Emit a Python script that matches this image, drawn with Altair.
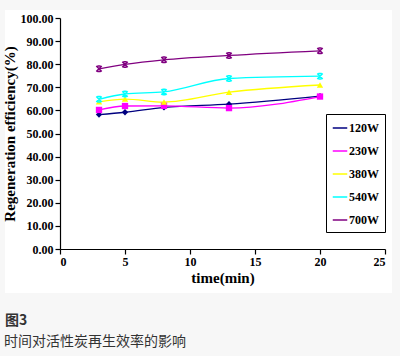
import altair as alt
import pandas as pd

times = [3, 5, 8, 13, 20]
series_names = ["120W", "230W", "380W", "540W", "700W"]
w120 = [58.2, 59.2, 61.3, 62.7, 66.2]
w230 = [60.2, 61.9, 62.0, 61.0, 66.0]
w380 = [63.7, 64.9, 63.6, 67.9, 71.0]
w540 = [64.8, 67.1, 68.0, 73.8, 74.8]
w700 = [78.0, 79.9, 81.9, 83.8, 85.8]
colors = ["#000080", "#FF00FF", "#FFFF00", "#00FFFF", "#800080"]
caption1 = "图3"
caption2 = "时间对活性炭再生效率的影响"

rows = []
for name, vals in zip(series_names, [w120, w230, w380, w540, w700]):
    for t, v in zip(times, vals):
        rows.append({"time": t, "eff": v, "series": name})
df = pd.DataFrame(rows)

W, H = 325, 231
FONT = "Liberation Serif"

xenc = alt.X("time:Q", scale=alt.Scale(domain=[0, 25]),
             axis=alt.Axis(values=[0, 5, 10, 15, 20, 25], title="time(min)", grid=False,
                           tickSize=5, titlePadding=3, zindex=2, labelOverlap=False))
yenc = alt.Y("eff:Q", scale=alt.Scale(domain=[0, 100]),
             axis=alt.Axis(values=list(range(0, 101, 10)), format=".2f",
                           title="Regeneration efficiency(%)", grid=False, tickSize=5,
                           titlePadding=3, zindex=2, labelOverlap=False, labelPadding=2))
cscale = alt.Scale(domain=series_names, range=colors)
color = alt.Color("series:N", scale=cscale,
                  legend=alt.Legend(title=None, orient="none", legendX=266, legendY=96,
                                    symbolType="stroke", symbolStrokeWidth=1.5, symbolSize=210,
                                    labelFont=FONT, labelFontWeight="bold", labelFontSize=12,
                                    labelColor="black", rowPadding=9, padding=6, labelOffset=1,
                                    strokeColor="black", fillColor="white"))

bg = alt.Chart(pd.DataFrame({"a": [0]})).mark_rect(color="white").encode(
    x=alt.value(-55), x2=alt.value(332), y=alt.value(-8), y2=alt.value(275))

lines = alt.Chart(df).mark_line(interpolate="monotone", strokeWidth=1.3).encode(
    x=xenc, y=yenc, color=color)

filled = alt.Chart(df).transform_filter(
    alt.FieldOneOfPredicate(field="series", oneOf=["120W", "230W", "380W"])
).mark_point(filled=True, opacity=1).encode(
    x=xenc, y=yenc,
    color=alt.Color("series:N", scale=cscale, legend=None),
    shape=alt.Shape("series:N", scale=alt.Scale(domain=["120W", "230W", "380W"],
                                                range=["diamond", "square", "triangle-up"]),
                    legend=None),
    size=alt.value(40))

crosses = alt.Chart(df).transform_filter(
    alt.FieldOneOfPredicate(field="series", oneOf=["540W", "700W"])
).mark_point(filled=False, opacity=1, strokeWidth=1.5,
             shape="M-1,-1L1,1M1,-1L-1,1M-0.6,-1L0.6,-1M-0.6,1L0.6,1").encode(
    x=xenc, y=yenc,
    color=alt.Color("series:N", scale=cscale, legend=None),
    size=alt.value(30))

cap = alt.Chart(pd.DataFrame({"a": [0]}))
c1 = cap.mark_text(text=caption1, align="left", baseline="middle", font="Noto Sans CJK SC",
                   fontSize=14, fontWeight="bold", color="#333333").encode(
    x=alt.value(-55), y=alt.value(303))
c2 = cap.mark_text(text=caption2, align="left", baseline="middle", font="Noto Sans CJK SC",
                   fontSize=14, color="#333333").encode(x=alt.value(-56), y=alt.value(324))

chart = alt.layer(bg, lines, filled, crosses, c1, c2).properties(
    width=W, height=H, background="#f7f7f7",
    padding={"left": 60, "top": 18, "right": 15, "bottom": 107},
    autosize=alt.AutoSizeParams(type="none")
).resolve_scale(shape="independent").configure_view(stroke=None).configure_axis(
    labelFont=FONT, labelFontWeight="bold", labelFontSize=12, labelColor="black",
    titleFont=FONT, titleFontWeight="bold", titleFontSize=15, titleColor="black",
    domainColor="black", tickColor="black", domainWidth=1.2, tickWidth=1.2
)

chart.save("out.html", embed_options={"renderer": "svg", "actions": False})
